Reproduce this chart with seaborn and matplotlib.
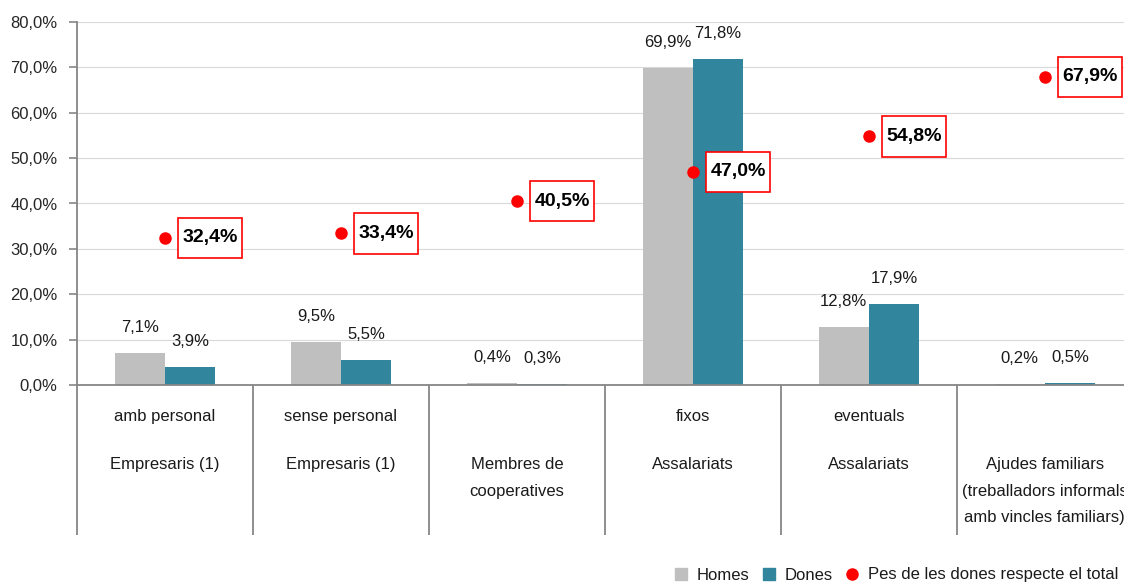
import numpy as np
import pandas as pd
import matplotlib
matplotlib.use("Agg")
import matplotlib.pyplot as plt
import seaborn as sns
from matplotlib.lines import Line2D
from matplotlib.path import Path
from matplotlib.ticker import FuncFormatter

# Data
CATS = ["amb personal", "sense personal", "Membres de cooperatives",
        "fixos", "eventuals", "Ajudes familiars"]
LEVEL1 = ["amb personal", "sense personal", "", "fixos", "eventuals", ""]
LEVEL2 = ["Empresaris (1)", "Empresaris (1)", "Membres de\ncooperatives",
          "Assalariats", "Assalariats",
          "Ajudes familiars\n(treballadors informals\namb vincles familiars)"]
HOMES = [7.1, 9.5, 0.4, 69.9, 12.8, 0.2]
DONES = [3.9, 5.5, 0.3, 71.8, 17.9, 0.5]
PES_DONES = [32.4, 33.4, 40.5, 47.0, 54.8, 67.9]
SERIES = ["Homes", "Dones"]
COLORS = ["#BFBFBF", "#31859C"]


def pct(v):
    return f"{v:.1f}%".replace(".", ",")


# box taller than wide padding, like the Excel label boxes
def label_box(x0, y0, width, height, mutation_size):
    px = 0.23 * mutation_size
    py = 0.6 * mutation_size
    x0, y0 = x0 - px, y0 - py
    x1, y1 = x0 + width + 2 * px, y0 + height + 2 * py
    return Path([(x0, y0), (x1, y0), (x1, y1), (x0, y1), (x0, y0)], closed=True)


df = pd.DataFrame({
    "cat": CATS * 2,
    "sexe": ["Homes"] * len(CATS) + ["Dones"] * len(CATS),
    "val": HOMES + DONES,
})

sns.set_style("white")
plt.rcParams["font.family"] = ["Liberation Sans", "DejaVu Sans"]
plt.rcParams["text.color"] = "#1a1a1a"

fig = plt.figure(figsize=(11.24, 5.84), dpi=100)
ax = fig.add_axes([77 / 1124, 199 / 584, (1124 - 77) / 1124, 363 / 584])

sns.barplot(data=df, x="cat", y="val", hue="sexe", order=CATS, hue_order=SERIES,
            palette=COLORS, width=0.57, gap=0, saturation=1, linewidth=0,
            legend=False, ax=ax)

# bar value labels
for cont, vals in zip(ax.containers, [HOMES, DONES]):
    ax.bar_label(cont, labels=[pct(v) for v in vals], padding=13, fontsize=12)

# red dots + boxed labels
xpos = np.arange(len(CATS))
ax.scatter(xpos, PES_DONES, s=64, color="#FF0000", zorder=5, clip_on=False)
for x, v in zip(xpos, PES_DONES):
    ax.annotate(pct(v), (x, v), xytext=(32.5, 0), textcoords="offset points",
                ha="center", va="center", fontsize=14, fontweight="bold", color="black",
                bbox=dict(boxstyle=label_box, fc="white", ec="#FF0000", lw=1.2),
                zorder=6)

ax.set_ylim(0, 80)
ax.set_yticks(np.arange(0, 81, 10))
ax.yaxis.set_major_formatter(FuncFormatter(lambda v, p: pct(v)))
ax.tick_params(axis="y", which="major", direction="out", length=6, width=1.2,
               color="#868686", pad=8, labelsize=12, left=True)
ax.grid(axis="y", color="#D9D9D9", linewidth=0.8)
ax.set_axisbelow(True)

# category labels and separators
ax.set_xticks(xpos)
ax.set_xticklabels([])
ax.tick_params(axis="x", which="major", length=0)
ax.set_xticks(np.arange(-0.5, len(CATS)), minor=True)
ax.tick_params(axis="x", which="minor", direction="out", length=108, width=1.3,
               color="#868686", bottom=True)
ax.set_xlim(-0.5, 5.45)
for x, l1, l2 in zip(xpos, LEVEL1, LEVEL2):
    if l1:
        ax.annotate(l1, (x, 0), xycoords=("data", "axes fraction"), xytext=(0, -23),
                    textcoords="offset points", ha="center", va="center", fontsize=12,
                    annotation_clip=False)
    ax.annotate(l2, (x, 0), xycoords=("data", "axes fraction"), xytext=(0, -52),
                textcoords="offset points", ha="center", va="top", fontsize=12,
                linespacing=1.95, annotation_clip=False)

ax.set_xlabel("")
ax.set_ylabel("")
for side in ["top", "right"]:
    ax.spines[side].set_visible(False)
for side in ["left", "bottom"]:
    ax.spines[side].set_color("#868686")
    ax.spines[side].set_linewidth(1.3)

# legend
handles = [
    Line2D([], [], marker="s", linestyle="none", markersize=9, color=COLORS[0]),
    Line2D([], [], marker="s", linestyle="none", markersize=9, color=COLORS[1]),
    Line2D([], [], marker="o", linestyle="none", markersize=8, color="#FF0000"),
]
fig.legend(handles, ["Homes", "Dones", "Pes de les dones respecte el total"],
           loc="center right", bbox_to_anchor=(1118 / 1124, 1 - 575 / 584), ncol=3,
           frameon=False, fontsize=12, handlelength=1, handletextpad=0.45,
           columnspacing=0.65, borderpad=0, borderaxespad=0)

fig.savefig("out.png", dpi=100)
